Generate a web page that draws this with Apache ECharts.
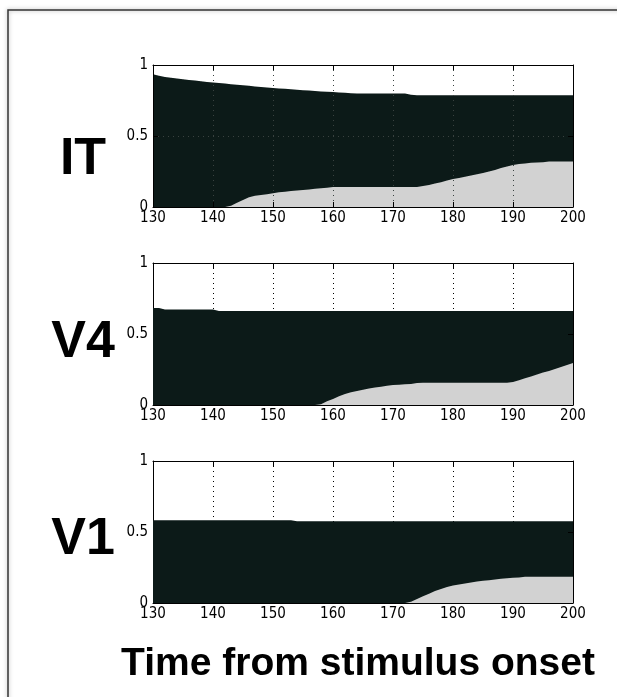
<!DOCTYPE html>
<html>
<head>
<meta charset="utf-8">
<script src="https://cdn.jsdelivr.net/npm/echarts@6/dist/echarts.min.js"></script>
<style>
html,body{margin:0;padding:0;background:#fff;}
#chart{width:617px;height:697px;}
</style>
</head>
<body>
<div id="chart"></div>
<script>
// Time axis (ms from stimulus onset)
var times = [130,131,132,133,134,135,136,137,138,139,140,141,142,143,144,145,146,147,148,149,150,151,152,153,154,155,156,157,158,159,160,161,162,163,164,165,166,167,168,169,170,171,172,173,174,175,176,177,178,179,180,181,182,183,184,185,186,187,188,189,190,191,192,193,194,195,196,197,198,199,200];
var xTicks = [130,140,150,160,170,180,190,200];
var yTicks = [0,0.5,1];
var panelNames = ['IT','V4','V1'];
var xTitle = 'Time from stimulus onset';

// IT
var itUpper = [.935,.925,.915,.91,.905,.90,.895,.89,.885,.88,.877,.873,.869,.865,.861,.857,.853,.849,.845,.842,.838,.835,.832,.829,.826,.823,.82,.817,.814,.812,.81,.807,.804,.801,.80,.80,.80,.80,.80,.80,.80,.80,.80,.79,.787,.787,.787,.787,.787,.787,.787,.787,.787,.787,.787,.787,.787,.787,.787,.787,.787,.787,.787,.787,.787,.787,.787,.787,.787,.787,.787];
var itLower = [0,0,0,0,0,0,0,0,0,0,0,0,0,.008,.03,.05,.068,.08,.085,.09,.097,.103,.108,.112,.116,.12,.124,.128,.132,.136,.14,.14,.14,.14,.14,.14,.14,.14,.14,.14,.14,.14,.14,.14,.14,.148,.155,.165,.175,.186,.197,.205,.213,.222,.23,.24,.25,.26,.275,.285,.295,.302,.307,.311,.314,.316,.32,.32,.32,.32,.32];
// V4
var v4Upper = [.683,.683,.672,.672,.672,.672,.672,.672,.672,.672,.672,.662,.662,.662,.662,.662,.662,.662,.662,.662,.662,.662,.662,.662,.662,.662,.662,.662,.662,.662,.662,.662,.662,.662,.662,.662,.662,.662,.662,.662,.662,.662,.662,.662,.662,.662,.662,.662,.662,.662,.662,.662,.662,.662,.662,.662,.662,.662,.662,.662,.662,.662,.662,.662,.662,.662,.662,.662,.662,.662,.662];
var v4Lower = [0,0,0,0,0,0,0,0,0,0,0,0,0,0,0,0,0,0,0,0,0,0,0,0,0,0,0,0,.005,.026,.042,.061,.077,.089,.099,.108,.117,.124,.129,.136,.141,.143,.146,.148,.155,.157,.157,.157,.157,.157,.157,.157,.157,.157,.157,.157,.157,.157,.157,.157,.162,.174,.188,.20,.214,.228,.239,.253,.268,.282,.296];
// V1
var v1Upper = [.582,.582,.582,.582,.582,.582,.582,.582,.582,.582,.582,.582,.582,.582,.582,.582,.582,.582,.582,.582,.582,.582,.582,.582,.575,.575,.575,.575,.575,.575,.575,.575,.575,.575,.575,.575,.575,.575,.575,.575,.575,.575,.575,.575,.575,.575,.575,.575,.575,.575,.575,.575,.575,.575,.575,.575,.575,.575,.575,.575,.575,.575,.575,.575,.575,.575,.575,.575,.575,.575,.575];
var v1Lower = [0,0,0,0,0,0,0,0,0,0,0,0,0,0,0,0,0,0,0,0,0,0,0,0,0,0,0,0,0,0,0,0,0,0,0,0,0,0,0,0,0,0,0,.009,.028,.047,.065,.084,.098,.112,.124,.131,.138,.145,.152,.157,.161,.166,.171,.175,.178,.18,.185,.185,.185,.185,.185,.185,.185,.185,.185];

var uppers = [itUpper, v4Upper, v1Upper];
var lowers = [itLower, v4Lower, v1Lower];

function pairs(arr){ return times.map(function(t,i){ return [t, arr[i]]; }); }

var tickFont = "'Liberation Sans Narrow','DejaVu Sans Condensed',sans-serif";
var gridTops = [65, 263, 461];
var labelCY = [160, 343, 540];

var grids = [], xAxes = [], yAxes = [], series = [], graphics = [];
gridTops.forEach(function(top, i){
  var onTop = (i === 0);
  grids.push({left:153, width:420, top:top, height:142, containLabel:false});
  xAxes.push({
    type:'value', gridIndex:i, min:130, max:200, interval:10, position:'bottom',
    z: onTop ? 5 : 0,
    axisLine:{show:true, onZero:false, lineStyle:{color:'#000', width:1}},
    axisTick:{show:true, inside:true, length:5, lineStyle:{color:'#000'}},
    axisLabel:{show:true, color:'#000', fontFamily:tickFont, fontSize:15, margin:4},
    splitLine:{show:true, lineStyle:{color: onTop ? '#3a4240' : '#000', type:[1,4], width:1}}
  });
  xAxes.push({
    type:'value', gridIndex:i, min:130, max:200, interval:10, position:'top',
    z: 5,
    axisLine:{show:true, onZero:false, lineStyle:{color:'#000', width:1}},
    axisTick:{show:true, inside:true, length:5, lineStyle:{color:'#000'}},
    axisLabel:{show:false}, splitLine:{show:false}
  });
  yAxes.push({
    type:'value', gridIndex:i, min:0, max:1, interval:0.5, position:'left',
    z: onTop ? 5 : 0,
    axisLine:{show:true, onZero:false, lineStyle:{color:'#000', width:1}},
    axisTick:{show:true, inside:true, length:5, lineStyle:{color:'#000'}},
    axisLabel:{show:true, color:'#000', fontFamily:tickFont, fontSize:15, margin:5},
    splitLine:{show:onTop, lineStyle:{color:'#3a4240', type:[1,4], width:1}}
  });
  yAxes.push({
    type:'value', gridIndex:i, min:0, max:1, interval:0.5, position:'right',
    z: 5,
    axisLine:{show:true, onZero:false, lineStyle:{color:'#000', width:1}},
    axisTick:{show:true, inside:true, length:5, lineStyle:{color:'#000'}},
    axisLabel:{show:false}, splitLine:{show:false}
  });
  series.push({
    type:'line', xAxisIndex:2*i, yAxisIndex:2*i, data:pairs(uppers[i]),
    showSymbol:false, symbol:'none', silent:true, z:1,
    lineStyle:{width:0}, areaStyle:{color:'#0c1a18', opacity:1}
  });
  series.push({
    type:'line', xAxisIndex:2*i, yAxisIndex:2*i, data:pairs(lowers[i]),
    showSymbol:false, symbol:'none', silent:true, z:2,
    lineStyle:{width:0}, areaStyle:{color:'#d2d2d2', opacity:1}
  });
  graphics.push({
    type:'text', x:83, y:labelCY[i],
    style:{text:panelNames[i], fill:'#000', font:"bold 52px 'Liberation Sans', Arial, sans-serif", textAlign:'center', textVerticalAlign:'middle'}
  });
});

graphics.push({
  type:'text', x:358, y:664,
  style:{text:xTitle, fill:'#000', font:"bold 39px 'Liberation Sans', Arial, sans-serif", textAlign:'center', textVerticalAlign:'middle'}
});
graphics.push({
  type:'rect', x:8, y:10, z:-1,
  shape:{x:0, y:0, width:800, height:900},
  style:{fill:'none', stroke:'#333', lineWidth:1.5, shadowBlur:4, shadowColor:'rgba(0,0,0,0.35)'}
});

var chart = echarts.init(document.getElementById('chart'), null, {renderer:'canvas'});
chart.setOption({
  animation:false,
  backgroundColor:'#fff',
  grid:grids, xAxis:xAxes, yAxis:yAxes, series:series, graphic:graphics
});
</script>
</body>
</html>
